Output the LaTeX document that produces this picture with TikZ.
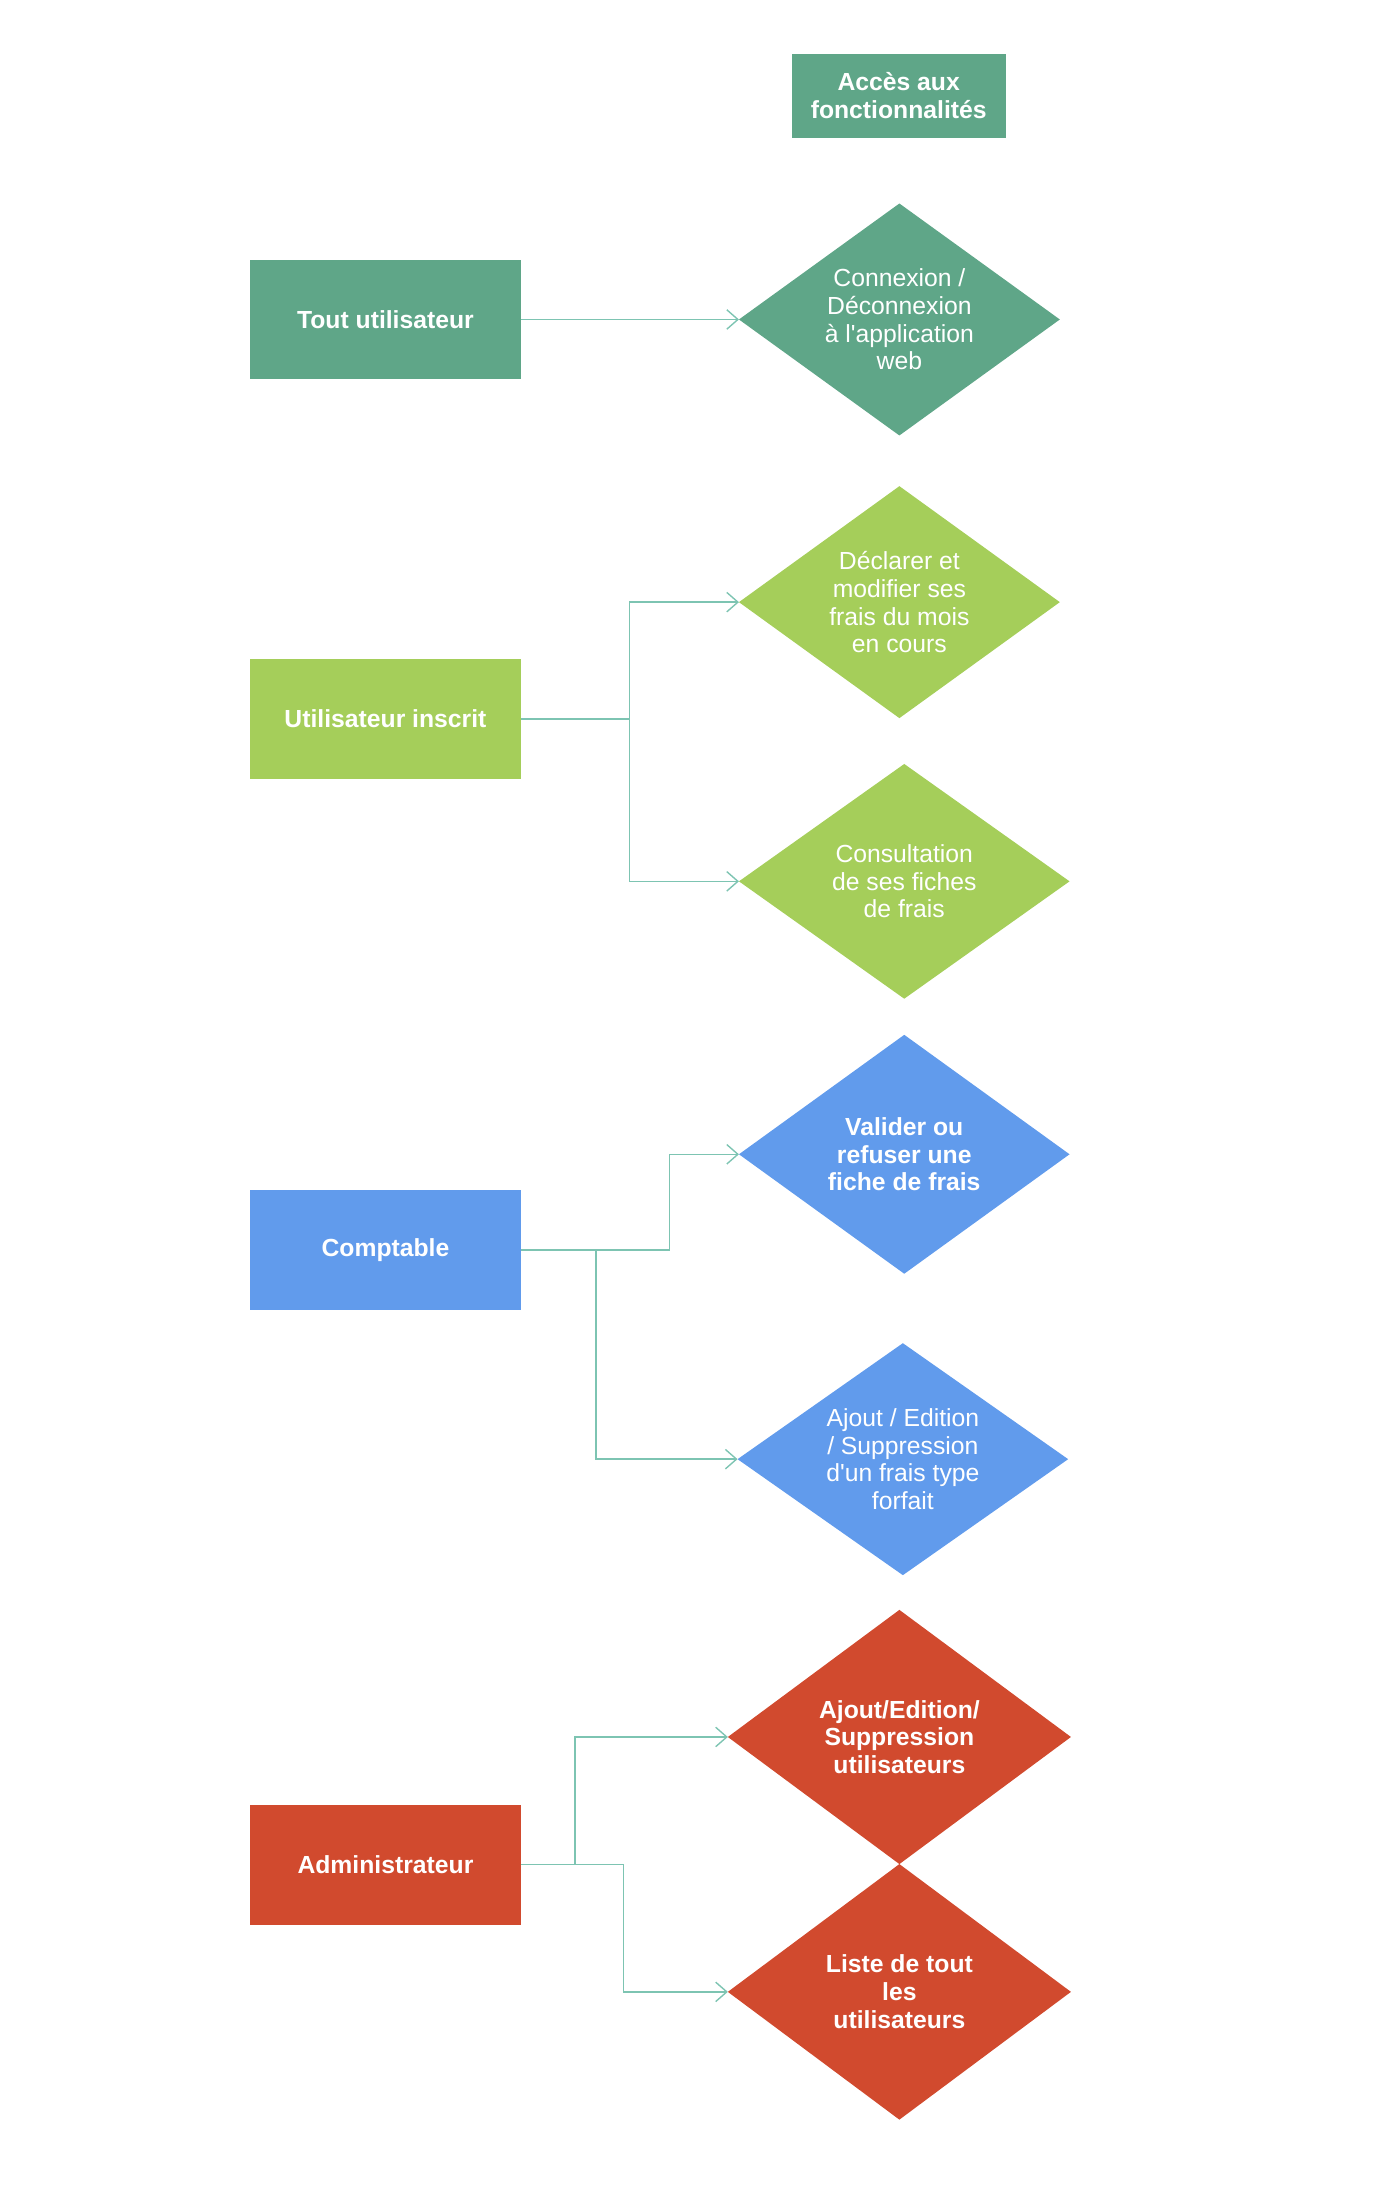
\documentclass[tikz,border=0pt]{standalone}
\usepackage{fontspec}
\setmainfont{Liberation Sans}
\usetikzlibrary{arrows.meta}
\usetikzlibrary{positioning}
\usetikzlibrary{shapes.geometric}

\definecolor{vertSapin}{RGB}{95,166,136}
\definecolor{vertPomme}{RGB}{165,206,90}
\definecolor{bleuCiel}{RGB}{97,155,236}
\definecolor{rougeBrique}{RGB}{209,74,46}
\definecolor{lienColor}{RGB}{125,196,178}

\begin{document}
\begin{tikzpicture}[->,>={Straight Barb[length=8pt,width=14pt]},x=1pt,y=-1pt,
		line width=1pt]
		\tikzstyle{role}=[rectangle,text=white,font=\bfseries\fontsize{17.8}{20}\selectfont,
		minimum width=195pt,minimum height=86pt,inner sep=0pt,outer sep=0pt,align=center]
		\tikzstyle{access}=[diamond,shape aspect=1.4,text=white,font=\fontsize{17.8}{20}\selectfont,
		inner sep=0pt,outer sep=0pt,align=center]
		\tikzstyle{link}=[draw=lienColor]
		
		\useasboundingbox (0,0) rectangle (1000,1574.5);
		
		\node[role,fill=vertSapin,minimum width=154pt,minimum height=60pt] (Acces) at (647,69)
		{Accès aux\\fonctionnalités};
		
		% roles
		\node[role,fill=vertSapin]   (Tout)    at (277.5,230)    {Tout utilisateur};
		\node[role,fill=vertPomme]   (Inscrit) at (277.5,517.5)  {Utilisateur inscrit};
		\node[role,fill=bleuCiel]    (Compta)  at (277.5,900)    {Comptable};
		\node[role,fill=rougeBrique] (Admin)   at (277.5,1342.5) {Administrateur};
		
		% fonctionnalites
		\node[access,fill=vertSapin,minimum width=231pt,minimum height=167pt] (Connexion) at (647.5,230)
		{Connexion /\\Déconnexion\\à l\textquotesingle application\\web};
		\node[access,fill=vertPomme,minimum width=231pt,minimum height=167pt] (Declarer) at (647.5,433.5)
		{Déclarer et\\modifier ses\\frais du mois\\en cours};
		\node[access,fill=vertPomme,minimum width=238pt,minimum height=169pt] (Consult) at (651,634.5)
		{Consultation\\de ses fiches\\de frais};
		\node[access,fill=bleuCiel,minimum width=238pt,minimum height=172pt,font=\bfseries\fontsize{17.8}{20}\selectfont] (Valider) at (651,831)
		{Valider ou\\refuser une\\fiche de frais};
		\node[access,fill=bleuCiel,minimum width=238pt,minimum height=167pt] (Forfait) at (650,1050.5)
		{Ajout / Edition\\/ Suppression\\d\textquotesingle un frais type\\forfait};
		\node[access,fill=rougeBrique,minimum width=247pt,minimum height=183pt,font=\bfseries\fontsize{17.8}{20}\selectfont] (GestionUser) at (647.5,1250.5)
		{Ajout/Edition/\\Suppression\\utilisateurs};
		\node[access,fill=rougeBrique,minimum width=247pt,minimum height=184pt,font=\bfseries\fontsize{17.8}{20}\selectfont] (ListeUser) at (647.5,1434)
		{Liste de tout\\les\\utilisateurs};
		
		% liens
		\coordinate (JInscrit) at (453,517.5);
		\coordinate (JCompta)  at (429,900);
		\coordinate (JAdmin)   at (414,1342.5);
		
		\draw[link] (Tout.east) -- (Connexion.west);
		\draw[link] (Inscrit.east) -- (JInscrit) |- (Declarer.west);
		\draw[link] (JInscrit) |- (Consult.west);
		\draw[link] (Compta.east) -- (482,900) |- (Valider.west);
		\draw[link] (JCompta) |- (Forfait.west);
		\draw[link] (Admin.east) -- (449,1342.5) |- (ListeUser.west);
		\draw[link] (JAdmin) |- (GestionUser.west);
		\end{tikzpicture}
\end{document}
